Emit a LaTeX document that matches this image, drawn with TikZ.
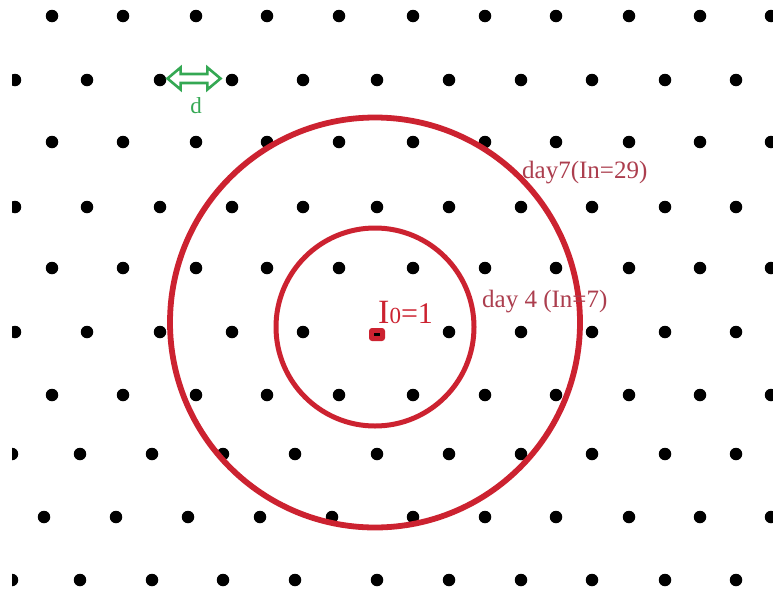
\documentclass[tikz,border=0pt]{standalone}
\usepackage{fontspec}
\setmainfont{Liberation Serif}
\usetikzlibrary{shapes.arrows}
\definecolor{ringred}{RGB}{204,34,48}
\definecolor{labred}{RGB}{172,62,78}
\definecolor{markgreen}{RGB}{52,168,83}
\begin{document}
\begin{tikzpicture}[x=1pt,y=-1pt,
  dot/.style={circle,fill=black,inner sep=0pt,minimum size=12.5pt},
  ring/.style={circle,draw=ringred,inner sep=0pt},
  lab/.style={anchor=base west,inner sep=0pt,text=labred,font=\fontsize{25}{25}\selectfont},
  seed/.style={rectangle,rounded corners=3pt,fill=ringred,inner sep=0pt,minimum width=16pt,minimum height=13pt},
  dist/.style={double arrow,draw=markgreen,line width=2.6pt,inner sep=3.2pt,
    minimum height=53pt,double arrow head extend=6.5pt,double arrow tip angle=80}]
\useasboundingbox (0,0) rectangle (773,592);
\fill[white] (0,0) rectangle (773,592);
\begin{scope}
\clip (12,0) rectangle (773,592);
% rows with offset A
\foreach \y/\r in {16/1,142/3,268/5,395/7}
  \foreach \x [count=\i] in {52,123,196,267,339,413,485,556,629,700,771}
    \node[dot] (d\r-\i) at (\x,\y) {};
% rows with offset B
\foreach \y/\r in {80/2,207/4}
  \foreach \x [count=\i] in {15,87,160,232,303,377,449,521,592,665,736}
    \node[dot] (d\r-\i) at (\x,\y) {};
\foreach \x [count=\i] in {15,87,160,232,303,449,521,592,665,736}
  \node[dot] (d6-\i) at (\x,332) {};
% lower rows
\foreach \y/\r in {454/8,580/10}
  \foreach \x [count=\i] in {12,80,152,223,295,377,449,521,592,665,736}
    \node[dot] (d\r-\i) at (\x,\y) {};
\foreach \x [count=\i] in {44,116,188,260,332,413,485,556,629,700,771}
  \node[dot] (d9-\i) at (\x,517) {};
\end{scope}
% infected seed
\node[seed] (seed) at (377,334.5) {};
\fill[black] ([xshift=-3pt,yshift=-1.5pt]seed.center) rectangle ([xshift=3pt,yshift=1.5pt]seed.center);
% rings
\node[ring,line width=5pt,minimum size=198pt] (inner) at (375,327) {};
\node[ring,line width=5.8pt,minimum size=410pt] (outer) at (375,322.5) {};
% labels
\node[anchor=base west,inner sep=0pt,text=ringred] (i0) at (378,323)
  {{\fontsize{34}{34}\selectfont I}{\fontsize{23}{23}\selectfont 0}{\fontsize{30}{30}\selectfont =1}};
\node[lab] (l4) at (482,307) {day 4 (In=7)};
\node[lab] (l7) at (522,178) {day7(In=29)};
% distance marker
\node[dist] (arr) at (194,78.5) {};
\node[text=markgreen,font=\fontsize{23}{23}\selectfont,anchor=base,inner sep=0pt] (dl) at (196,113) {d};
\end{tikzpicture}
\end{document}
